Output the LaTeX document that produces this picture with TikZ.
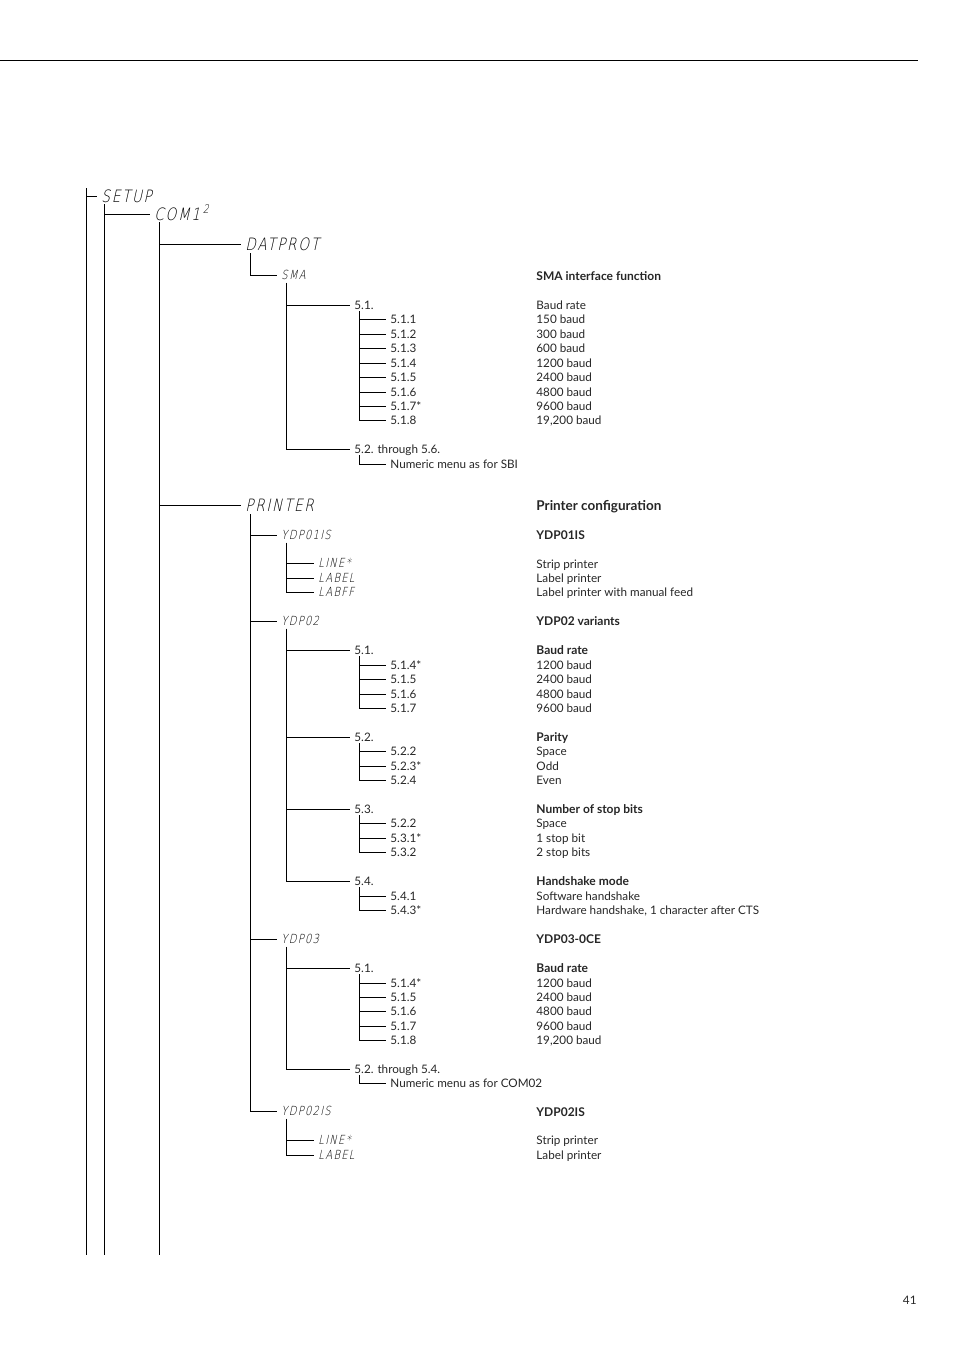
\documentclass[tikz,border=0pt]{standalone}
\usepackage{fontspec}
\setmainfont{Lato}
\newfontfamily\lcdfont[FakeSlant=0.22,FakeStretch=0.8,LetterSpace=10]{DejaVu Sans ExtraLight}
\usetikzlibrary{positioning}

\begin{document}
\begin{tikzpicture}[x=1pt, y=-1pt, line width=0.9pt,
  every node/.style={text=black!85},
  disp/.style={anchor=west, inner xsep=4pt, inner ysep=0pt, text height=12pt, text depth=0pt, text=black, font=\lcdfont\fontsize{17}{17}\selectfont},
  dispsm/.style={disp, text height=9pt, font=\lcdfont\fontsize{12.5}{12.5}\selectfont},
  num/.style={anchor=west, inner xsep=4pt, inner ysep=0pt, text height=8pt, text depth=0pt, font=\fontsize{11.7}{13}\selectfont},
  txt/.style={num, inner xsep=0pt},
  hd/.style={txt, font=\bfseries\fontsize{12}{13}\selectfont}]
\useasboundingbox (0,0) rectangle (954,1350);
\draw (0,60) -- (918,60);
\coordinate (rootTop) at (86,188);
\coordinate (bottom) at (0,1255);

% display menu levels
\node[disp] (setup) at (97,196) {SETUP};
\node[disp] (com) at (150,214) {COM1\,\textsuperscript{2}};
\node[disp] (datprot) at (241,244) {DATPROT};
\node[dispsm] (sma) at (277,275) {SMA};
\node[disp] (printer) at (241,505) {PRINTER};
\node[dispsm] (ydpa) at (277,535) {YDP01IS};
\node[dispsm] (ydpb) at (277,621) {YDP02};
\node[dispsm] (ydpc) at (277,939) {YDP03};
\node[dispsm] (ydpd) at (277,1111) {YDP02IS};
\node[dispsm] (la1) at (314,563) {LINE*};
\node[dispsm] (la2) at (314,578) {LABEL};
\node[dispsm] (la3) at (314,592) {LABFF};
\node[dispsm] (ld1) at (314,1140) {LINE*};
\node[dispsm] (ld2) at (314,1155) {LABEL};

% SMA branch
\node[num] (a51) at (350,305) {5.1.};
\foreach \y/\t [count=\i] in {319/5.1.1, 334/5.1.2, 348/5.1.3, 363/5.1.4, 377/5.1.5, 392/5.1.6, 406/5.1.7*, 420/5.1.8}
  \node[num] (a51-\i) at (386,\y) {\t};
\node[num] (a52) at (350,449) {5.2. through 5.6.};
\node[num] (a52n) at (386,464) {Numeric menu as for SBI};

% YDP02 branch
\node[num] (b51) at (350,650) {5.1.};
\foreach \y/\t [count=\i] in {665/5.1.4*, 679/5.1.5, 694/5.1.6, 708/5.1.7}
  \node[num] (b51-\i) at (386,\y) {\t};
\node[num] (b52) at (350,737) {5.2.};
\foreach \y/\t [count=\i] in {751/5.2.2, 766/5.2.3*, 780/5.2.4}
  \node[num] (b52-\i) at (386,\y) {\t};
\node[num] (b53) at (350,809) {5.3.};
\foreach \y/\t [count=\i] in {823/5.2.2, 838/5.3.1*, 852/5.3.2}
  \node[num] (b53-\i) at (386,\y) {\t};
\node[num] (b54) at (350,881) {5.4.};
\foreach \y/\t [count=\i] in {896/5.4.1, 910/5.4.3*}
  \node[num] (b54-\i) at (386,\y) {\t};

% YDP03 branch
\node[num] (c51) at (350,968) {5.1.};
\foreach \y/\t [count=\i] in {983/5.1.4*, 997/5.1.5, 1011/5.1.6, 1026/5.1.7, 1040/5.1.8}
  \node[num] (c51-\i) at (386,\y) {\t};
\node[num] (c52) at (350,1069) {5.2. through 5.4.};
\node[num] (c52n) at (386,1083) {Numeric menu as for COM02};

% tree lines
\draw (rootTop) -- (rootTop |- bottom);
\draw (rootTop |- setup.west) -- (setup.west);
\draw ([xshift=7pt,yshift=-2pt]setup.south west) -- ([xshift=7pt]setup.west |- bottom);
\draw ([xshift=7pt]setup.west |- com.west) -- (com.west);
\draw ([xshift=9pt,yshift=-2pt]com.south west) -- ([xshift=9pt]com.west |- bottom);
\foreach \c in {datprot, printer}
  \draw ([xshift=9pt]com.west |- \c.west) -- (\c.west);
\draw ([xshift=9pt,yshift=-3pt]datprot.south west) |- (sma.west);
\foreach \c in {a51, a52}
  \draw ([xshift=9pt,yshift=-3pt]sma.south west) |- (\c.west);
\foreach \i in {1,...,8}
  \draw ([xshift=9pt,yshift=-2pt]a51.south west) |- (a51-\i.west);
\draw ([xshift=9pt,yshift=-2pt]a52.south west) |- (a52n.west);
\foreach \c in {ydpa, ydpb, ydpc, ydpd}
  \draw ([xshift=9pt,yshift=-3pt]printer.south west) |- (\c.west);
\foreach \c in {la1, la2, la3}
  \draw ([xshift=9pt,yshift=-3pt]ydpa.south west) |- (\c.west);
\foreach \c in {b51, b52, b53, b54}
  \draw ([xshift=9pt,yshift=-3pt]ydpb.south west) |- (\c.west);
\foreach \i in {1,...,4}
  \draw ([xshift=9pt,yshift=-2pt]b51.south west) |- (b51-\i.west);
\foreach \i in {1,...,3} {
  \draw ([xshift=9pt,yshift=-2pt]b52.south west) |- (b52-\i.west);
  \draw ([xshift=9pt,yshift=-2pt]b53.south west) |- (b53-\i.west);
}
\foreach \i in {1,2}
  \draw ([xshift=9pt,yshift=-2pt]b54.south west) |- (b54-\i.west);
\foreach \c in {c51, c52}
  \draw ([xshift=9pt,yshift=-3pt]ydpc.south west) |- (\c.west);
\foreach \i in {1,...,5}
  \draw ([xshift=9pt,yshift=-2pt]c51.south west) |- (c51-\i.west);
\draw ([xshift=9pt,yshift=-2pt]c52.south west) |- (c52n.west);
\foreach \c in {ld1, ld2}
  \draw ([xshift=9pt,yshift=-3pt]ydpd.south west) |- (\c.west);

% description column
\node[hd] (hsma) at (536,276) {SMA interface function};
\foreach \y/\t [count=\i] in {305/Baud rate, 319/150 baud, 334/300 baud, 348/600 baud, 363/1200 baud, 377/2400 baud, 392/4800 baud, 406/9600 baud, 420/{19,200 baud}}
  \node[txt] (dsma-\i) at (536,\y) {\t};
\node[hd, font=\bfseries\fontsize{13.5}{15}\selectfont] (hprn) at (536,506) {Printer configuration};
\node[hd] (hydpa) at (536,535) {YDP01IS};
\foreach \y/\t [count=\i] in {564/Strip printer, 578/Label printer, 592/Label printer with manual feed}
  \node[txt] (dydpa-\i) at (536,\y) {\t};
\node[hd] (hydpb) at (536,621) {YDP02 variants};
\node[hd] (hb51) at (536,650) {Baud rate};
\foreach \y/\t [count=\i] in {665/1200 baud, 679/2400 baud, 694/4800 baud, 708/9600 baud}
  \node[txt] (db51-\i) at (536,\y) {\t};
\node[hd] (hb52) at (536,737) {Parity};
\foreach \y/\t [count=\i] in {751/Space, 766/Odd, 780/Even}
  \node[txt] (db52-\i) at (536,\y) {\t};
\node[hd] (hb53) at (536,809) {Number of stop bits};
\foreach \y/\t [count=\i] in {823/Space, 838/1 stop bit, 852/2 stop bits}
  \node[txt] (db53-\i) at (536,\y) {\t};
\node[hd] (hb54) at (536,881) {Handshake mode};
\foreach \y/\t [count=\i] in {896/Software handshake, 910/{Hardware handshake, 1 character after CTS}}
  \node[txt] (db54-\i) at (536,\y) {\t};
\node[hd] (hydpc) at (536,939) {YDP03-0CE};
\node[hd] (hc51) at (536,968) {Baud rate};
\foreach \y/\t [count=\i] in {983/1200 baud, 997/2400 baud, 1011/4800 baud, 1026/9600 baud, 1040/{19,200 baud}}
  \node[txt] (dc51-\i) at (536,\y) {\t};
\node[hd] (hydpd) at (536,1112) {YDP02IS};
\foreach \y/\t [count=\i] in {1140/Strip printer, 1155/Label printer}
  \node[txt] (dydpd-\i) at (536,\y) {\t};

\node[txt, anchor=east] (page) at (917,1300) {41};
\end{tikzpicture}
\end{document}
